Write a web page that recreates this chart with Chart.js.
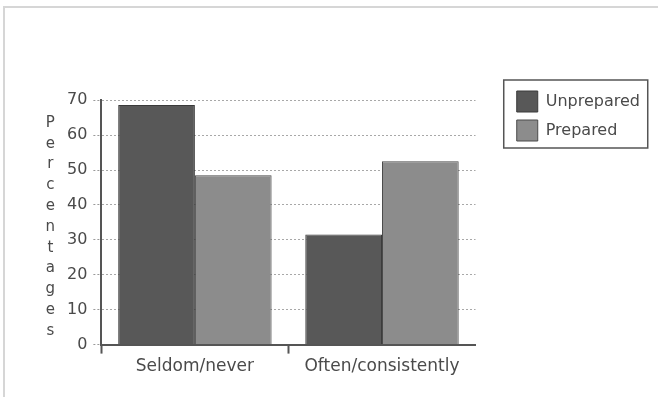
<!DOCTYPE html>
<html>
<head>
<meta charset="utf-8">
<script src="https://cdn.jsdelivr.net/npm/chart.js@4.4.1/dist/chart.umd.min.js"></script>
<style>
  html, body { margin: 0; padding: 0; background: #fff; }
  #wrap { position: relative; width: 658px; height: 397px; overflow: hidden; background: #fff; }
  #frame { position: absolute; left: 3px; top: 6px; right: -4px; bottom: -4px;
           border-top: 2px solid #d6d6d6; border-left: 2px solid #d6d6d6; pointer-events: none; }
  canvas { position: absolute; left: 0; top: 0; }
</style>
</head>
<body>
<div id="wrap">
  <canvas id="chart" width="658" height="397"></canvas>
  <div id="frame"></div>
</div>
<script>
const categories = ['Seldom/never', 'Often/consistently'];
const seriesNames = ['Unprepared', 'Prepared'];
const unprepared = [68.6, 31.5];
const prepared = [48.5, 52.5];
const yTicks = [0, 10, 20, 30, 40, 50, 60, 70];
const yTitle = 'Percentages';

const textColor = '#4a4a4a';
const font = 'DejaVu Sans';

// box around the legend items
const legendFrame = {
  id: 'legendFrame',
  afterDraw(chart) {
    const hb = chart.legend && chart.legend.legendHitBoxes;
    if (!hb || !hb.length) return;
    const last = hb[hb.length - 1];
    const left = hb[0].left - 13;
    const top = hb[0].top - 11;
    const bottom = last.top + last.height + 7;
    const ctx = chart.ctx;
    ctx.save();
    ctx.strokeStyle = '#555';
    ctx.lineWidth = 1.5;
    ctx.strokeRect(left, top, 144, bottom - top);
    ctx.restore();
  }
};

// y title written as a column of upright letters
const stackedTitle = {
  id: 'stackedTitle',
  afterDraw(chart) {
    const ctx = chart.ctx;
    const area = chart.chartArea;
    ctx.save();
    ctx.fillStyle = textColor;
    ctx.font = '15px "' + font + '"';
    ctx.textAlign = 'center';
    ctx.textBaseline = 'alphabetic';
    yTitle.split('').forEach((ch, i) => {
      ctx.fillText(ch, area.left - 51, area.top + 26.5 + i * 20.8);
    });
    ctx.restore();
  }
};

const ctx = document.getElementById('chart').getContext('2d');
new Chart(ctx, {
  type: 'bar',
  data: {
    labels: categories,
    datasets: [{
      label: seriesNames[0],
      data: unprepared,
      backgroundColor: '#585858',
      borderColor: '#3a3a3a',
      borderWidth: 1
    }, {
      label: seriesNames[1],
      data: prepared,
      backgroundColor: '#8c8c8c',
      borderColor: '#4a4a4a',
      borderWidth: 1
    }]
  },
  options: {
    responsive: false,
    animation: false,
    devicePixelRatio: 1,
    layout: { padding: { top: 83, left: 61, right: 8, bottom: 17 } },
    datasets: { bar: { categoryPercentage: 0.82, barPercentage: 1 } },
    scales: {
      x: {
        grid: {
          drawOnChartArea: false,
          drawTicks: true,
          tickLength: 9,
          tickWidth: 2,
          // no tick mark at the far right end of the axis
          tickColor: c => c.type === 'tick' ? '#555' : 'rgba(0,0,0,0)'
        },
        border: { color: '#555', width: 2 },
        ticks: {
          color: textColor,
          padding: 3,
          autoSkip: false,
          maxRotation: 0,
          font: { family: font, size: 17 }
        }
      },
      y: {
        min: 0,
        max: 70,
        afterBuildTicks: axis => { axis.ticks = yTicks.map(v => ({ value: v })); },
        grid: {
          color: '#a8a8a8',
          lineWidth: 1,
          tickLength: 8,
          tickColor: '#999',
          tickBorderDash: [2, 2]
        },
        border: { color: '#555', width: 2, dash: [2, 2] },
        ticks: {
          color: textColor,
          padding: 6,
          font: { family: font, size: 16 }
        }
      }
    },
    plugins: {
      title: {
        display: true, text: '', position: 'top', fullSize: false,
        font: { size: 1 }, padding: { top: 16, bottom: 0 }
      },
      subtitle: {
        display: true, text: '', position: 'right', fullSize: false, weight: 500,
        font: { size: 1 }, padding: { top: 32, bottom: 0 }
      },
      legend: {
        position: 'right',
        align: 'start',
        maxWidth: 200,
        labels: {
          boxWidth: 21,
          boxHeight: 21,
          padding: 8,
          color: textColor,
          font: { family: font, size: 16 }
        }
      },
      tooltip: { enabled: false }
    }
  },
  plugins: [legendFrame, stackedTitle]
});
</script>
</body>
</html>
